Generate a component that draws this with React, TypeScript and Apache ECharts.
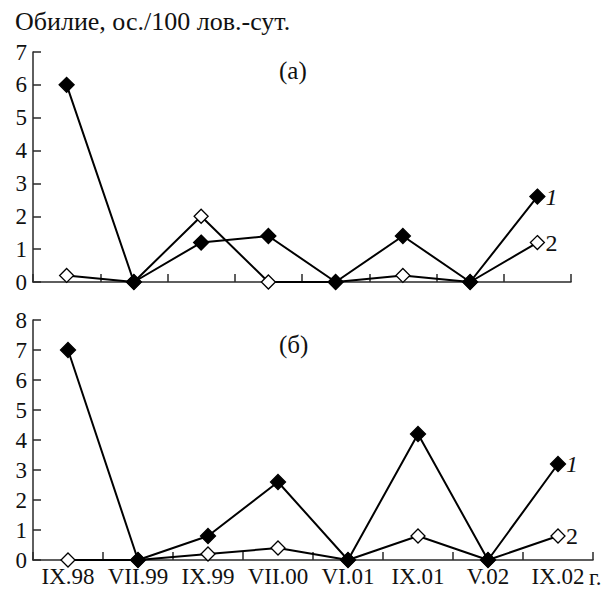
import React, { useEffect, useRef } from "react";
import * as echarts from "echarts";

const categories = ["IX.98", "VII.99", "IX.99", "VII.00", "VI.01", "IX.01", "V.02", "IX.02"];
const topSeries1 = [6, 0, 1.2, 1.4, 0, 1.4, 0, 2.6];
const topSeries2 = [0.2, 0, 2, 0, 0, 0.2, 0, 1.2];
const bottomSeries1 = [7, 0, 0.8, 2.6, 0, 4.2, 0, 3.2];
const bottomSeries2 = [0, 0, 0.2, 0.4, 0, 0.8, 0, 0.8];

const FONT = "Liberation Serif";

export default function App() {
  const ref = useRef<HTMLDivElement>(null);
  useEffect(() => {
    document.body.style.margin = "0";
    const chart = echarts.init(ref.current!, null, { renderer: "svg" });
    const axisLine = { show: true, lineStyle: { color: "#2a2a2a", width: 1.5 } };
    const axisTick = { show: true, inside: true, length: 8, lineStyle: { color: "#2a2a2a", width: 1.5 } };
    const lbl = { fontFamily: FONT, fontSize: 23, color: "#111" };
    const mkSeries = (data: number[], xi: number, filled: boolean, name: string) => ({
      type: "line",
      xAxisIndex: xi,
      yAxisIndex: xi,
      data,
      symbol: "diamond",
      symbolSize: filled ? [15, 15] : [14, 14],
      showAllSymbol: true,
      z: filled ? 3 : 2,
      lineStyle: { color: "#000", width: 2 },
      itemStyle: { color: filled ? "#000" : "#fff", borderColor: "#000", borderWidth: 1.3 },
      endLabel: {
        show: true,
        formatter: name,
        fontFamily: FONT,
        fontSize: 24,
        fontStyle: name === "1" ? "italic" : "normal",
        color: "#111",
        distance: 8,
      },
    });
    chart.setOption({
      animation: false,
      textStyle: { fontFamily: FONT },
      grid: [
        { left: 33, top: 52, width: 538, height: 230 },
        { left: 33, top: 320, width: 560, height: 240 },
      ],
      xAxis: [
        {
          type: "category",
          gridIndex: 0,
          data: categories,
          boundaryGap: true,
          axisLine,
          axisTick: { ...axisTick, interval: 0 },
          axisLabel: { show: false },
        },
        {
          type: "category",
          gridIndex: 1,
          data: categories,
          boundaryGap: true,
          axisLine,
          axisTick: { ...axisTick, interval: 0 },
          axisLabel: { ...lbl, margin: 5, interval: 0 },
        },
      ],
      yAxis: [
        {
          type: "value",
          gridIndex: 0,
          min: 0,
          max: 7,
          interval: 1,
          axisLine,
          axisTick,
          splitLine: { show: false },
          axisLabel: { ...lbl, margin: 6 },
        },
        {
          type: "value",
          gridIndex: 1,
          min: 0,
          max: 8,
          interval: 1,
          axisLine,
          axisTick,
          splitLine: { show: false },
          axisLabel: { ...lbl, margin: 6 },
        },
      ],
      graphic: [
        {
          type: "text",
          left: 15,
          top: 8,
          style: { text: "Обилие, ос./100 лов.-сут.", fontFamily: FONT, fontSize: 26, fill: "#111" },
        },
        {
          type: "text",
          left: 279,
          top: 58,
          style: { text: "(а)", fontFamily: FONT, fontSize: 25, fill: "#111" },
        },
        {
          type: "text",
          left: 279,
          top: 332,
          style: { text: "(б)", fontFamily: FONT, fontSize: 25, fill: "#111" },
        },
        {
          type: "text",
          left: 589,
          top: 566,
          style: { text: "г.", fontFamily: FONT, fontSize: 23, fill: "#111" },
        },
      ],
      series: [
        mkSeries(topSeries2, 0, false, "2"),
        mkSeries(topSeries1, 0, true, "1"),
        mkSeries(bottomSeries2, 1, false, "2"),
        mkSeries(bottomSeries1, 1, true, "1"),
      ],
    });
    return () => chart.dispose();
  }, []);
  return <div ref={ref} style={{ width: 616, height: 589 }} />;
}
